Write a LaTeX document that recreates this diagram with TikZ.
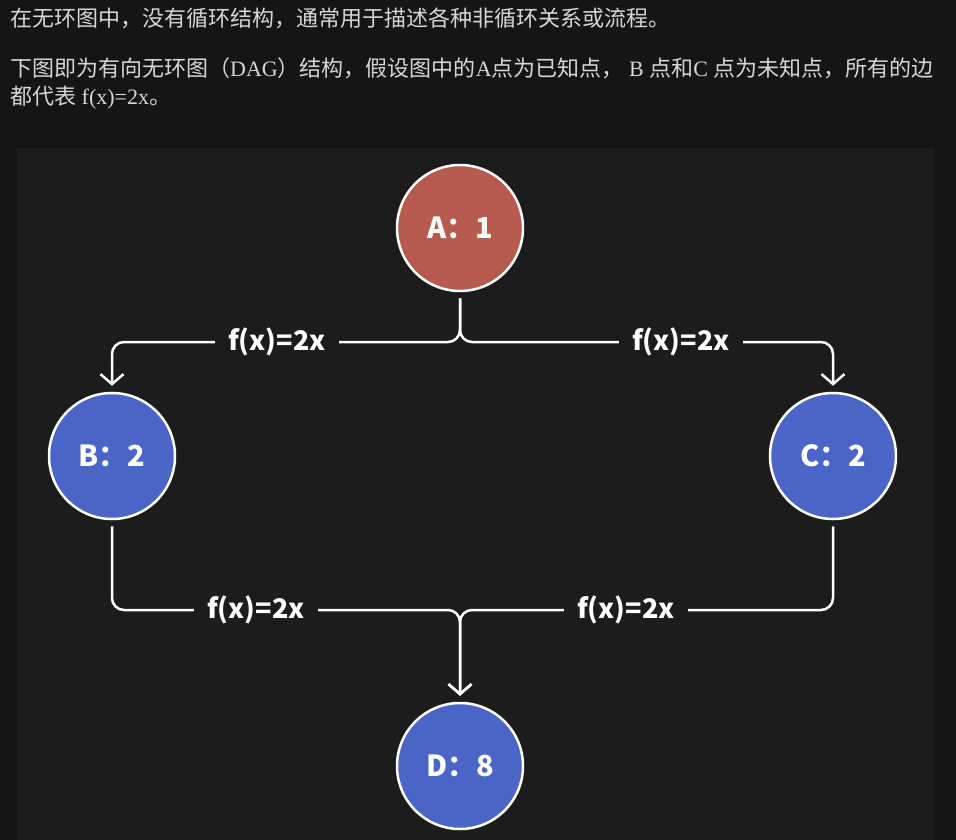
\documentclass[tikz,border=0pt]{standalone}
\usepackage{fontspec}
\setmainfont{Liberation Serif}
\newfontfamily\cjk{Noto Sans CJK SC}
\usetikzlibrary{arrows.meta}
\definecolor{bgout}{HTML}{151515}
\definecolor{panel}{HTML}{1C1C1C}
\definecolor{txtgray}{HTML}{D6D6D6}
\definecolor{nodered}{HTML}{B85B4F}
\definecolor{nodeblue}{HTML}{4A64C7}
\begin{document}
\begin{tikzpicture}[x=1pt,y=-1pt,
  para/.style={anchor=base west, inner sep=0pt, text=txtgray, font=\fontsize{22}{26}\selectfont},
  vertex/.style={circle, draw=white, line width=2.5pt, minimum size=126pt, inner sep=0pt, text=white, font=\cjk\bfseries\fontsize{29}{32}\selectfont},
  edge/.style={draw=white, line width=2.5pt, rounded corners=12pt},
  arr/.style={-{Straight Barb[length=10pt,width=23pt]}},
  lbl/.style={fill=panel, text=white, inner xsep=13pt, inner ysep=2pt, font=\cjk\bfseries\fontsize{27}{30}\selectfont}]
\useasboundingbox (0,0) rectangle (956,840);
\fill[bgout] (0,0) rectangle (956,840);
\fill[panel] (17,148) rectangle (934,840);

\node[para] (t1) at (10,27) {{\cjk 在无环图中，没有循环结构，通常用于描述各种非循环关系或流程。}};
\node[para] (t2) at (10,77) {{\cjk 下图即为有向无环图（}DAG{\cjk ）结构，假设图中的}A{\cjk 点为已知点，} B {\cjk 点和}C {\cjk 点为未知点，所有的边}};
\node[para] (t3) at (10,105) {{\cjk 都代表} f(x)=2x{\cjk 。}};

\node[vertex, fill=nodered] (A) at (460,228) {A：1};
\node[vertex, fill=nodeblue] (B) at (112,456) {B：2};
\node[vertex, fill=nodeblue] (C) at (833,456) {C：2};
\node[vertex, fill=nodeblue] (D) at (460,766) {D：8};

\coordinate (sa) at (460,342);
\coordinate (mb) at (460,610);

\draw[edge, arr, shorten <=6pt, shorten >=6pt] (A.south) -- (sa) -| (B.north);
\draw[edge, arr, shorten <=6pt, shorten >=6pt] (A.south) -- (sa) -| (C.north);
\draw[edge, arr, shorten <=6pt, shorten >=6pt] (B.south) |- (mb) -- (D.north);
\draw[edge, arr, shorten <=6pt, shorten >=6pt] (C.south) |- (mb) -- (D.north);

\node[lbl] (l1) at (277,342) {f(x)=2x};
\node[lbl] (l2) at (681,342) {f(x)=2x};
\node[lbl] (l3) at (256,610) {f(x)=2x};
\node[lbl] (l4) at (626,610) {f(x)=2x};
\end{tikzpicture}
\end{document}
